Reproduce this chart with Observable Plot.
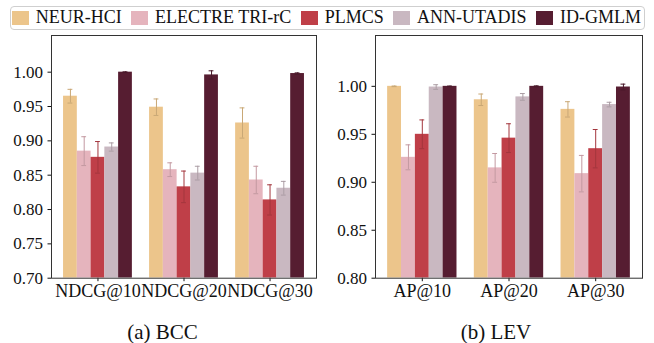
<!DOCTYPE html>
<html>
<head>
<meta charset="utf-8">
<script src="https://cdn.jsdelivr.net/npm/d3@7"></script>
<script src="https://cdn.jsdelivr.net/npm/@observablehq/plot@0.6"></script>
<style>
  body { margin:0; width:654px; height:343px; position:relative; overflow:hidden; background:#fff; font-family:"Liberation Serif", "Times New Roman", serif; color:#111; }
  #legend { position:absolute; left:10px; top:6px; width:635px; height:24px; box-sizing:border-box; border:1px solid #cfcfcf; border-radius:4px; display:flex; align-items:center; justify-content:space-between; padding:0 3px 0 1px; font-size:18px; }
  #legend .item { display:flex; align-items:center; }
  #legend .sw { width:16.7px; height:14.7px; margin-right:7px; }
  #legend .lbl { position:relative; top:-1px; white-space:nowrap; }
  .panel { position:absolute; top:0; }
  .cap { position:absolute; width:200px; text-align:center; font-size:21px; line-height:21px; top:322px; }
</style>
</head>
<body>
<div id="legend"></div>
<div id="left" class="panel" style="left:0px"></div>
<div id="right" class="panel" style="left:327px"></div>
<div class="cap" style="left:62.5px">(a) BCC</div>
<div class="cap" style="left:396px">(b) LEV</div>
<script>
const methods = ["NEUR-HCI", "ELECTRE TRI-rC", "PLMCS", "ANN-UTADIS", "ID-GMLM"];
const colors = ["#ECC58B", "#E5B4BD", "#BF3F48", "#C9B8C1", "#561D31"];

const bccCategories = ["NDCG@10", "NDCG@20", "NDCG@30"];
const bccValues = [
  [0.965, 0.949, 0.926],
  [0.885, 0.858, 0.843],
  [0.876, 0.833, 0.814],
  [0.891, 0.853, 0.831],
  [1.000, 0.996, 0.998]
];
const bccErrors = [
  [0.010, 0.012, 0.022],
  [0.021, 0.010, 0.020],
  [0.023, 0.023, 0.022],
  [0.006, 0.010, 0.010],
  [0.0005, 0.006, 0.001]
];
const bccTicks = [0.70, 0.75, 0.80, 0.85, 0.90, 0.95, 1.00];

const levCategories = ["AP@10", "AP@20", "AP@30"];
const levValues = [
  [1.000, 0.986, 0.976],
  [0.926, 0.915, 0.909],
  [0.950, 0.946, 0.935],
  [0.9993, 0.989, 0.981],
  [1.000, 1.000, 0.9993]
];
const levErrors = [
  [0.0003, 0.006, 0.008],
  [0.013, 0.015, 0.019],
  [0.015, 0.015, 0.020],
  [0.0024, 0.0035, 0.0024],
  [0.0003, 0.0005, 0.003]
];
const levTicks = [0.80, 0.85, 0.90, 0.95, 1.00];

// legend
const legend = document.getElementById("legend");
methods.forEach((m, i) => {
  const it = document.createElement("div"); it.className = "item";
  const sw = document.createElement("div"); sw.className = "sw"; sw.style.background = colors[i];
  const lb = document.createElement("span"); lb.className = "lbl"; lb.textContent = m;
  it.appendChild(sw); it.appendChild(lb); legend.appendChild(it);
});

const barW = 0.16, capHalf = 0.028;

function rows(cats, values, errors) {
  const out = [];
  methods.forEach((m, mi) => {
    cats.forEach((c, ci) => {
      const xc = ci + (mi - 2) * barW;
      out.push({method: m, cat: c, xc, x1: xc - barW / 2, x2: xc + barW / 2,
        v: values[mi][ci], e: errors[mi][ci], fill: colors[mi],
        ec: d3.color(colors[mi]).darker(0.45).formatHex()});
    });
  });
  return out;
}

function panel(cats, values, errors, ticks, yTop, mLeft, mRight) {
  const data = rows(cats, values, errors);
  const svg = Plot.plot({
    width: 327, height: 305,
    marginLeft: mLeft, marginRight: mRight, marginTop: 35, marginBottom: 27.3,
    style: {fontFamily: "Liberation Serif", fontSize: "17px", color: "#111", background: "transparent", overflow: "visible"},
    color: {type: "identity"},
    x: {domain: [-0.54, 2.54], ticks: [0, 1, 2], tickFormat: i => cats[i], tickSize: 3.5, tickPadding: 3, label: null},
    y: {domain: [ticks[0], yTop], ticks: ticks, tickFormat: d3.format(".2f"), tickSize: 3.5, tickPadding: 5, label: null},
    marks: [
      Plot.rectY(data, {x1: "x1", x2: "x2", y1: ticks[0], y2: "v", fill: "fill", clip: true}),
      Plot.ruleX(data, {x: "xc", y1: d => d.v - d.e, y2: d => d.v + d.e, stroke: "ec", strokeWidth: 1}),
      Plot.ruleY(data, {x1: d => d.xc - capHalf, x2: d => d.xc + capHalf, y: d => d.v + d.e, stroke: "ec", strokeWidth: 1}),
      Plot.ruleY(data, {x1: d => d.xc - capHalf, x2: d => d.xc + capHalf, y: d => d.v - d.e, stroke: "ec", strokeWidth: 1}),
      Plot.frame({stroke: "#333", strokeWidth: 1})
    ]
  });
  svg.querySelectorAll('[aria-label^="x-axis"] text').forEach(t => t.setAttribute("font-size", "18px"));
  svg.querySelectorAll('[aria-label^="x-axis"] g text, [aria-label^="x-axis"] > text').forEach(t => t.style.fontSize = "18px");
  return svg;
}

document.getElementById("left").appendChild(panel(bccCategories, bccValues, bccErrors, bccTicks, 1.0534, 51, 11));
document.getElementById("right").appendChild(panel(levCategories, levValues, levErrors, levTicks, 1.053, 48, 12));
</script>
</body>
</html>
